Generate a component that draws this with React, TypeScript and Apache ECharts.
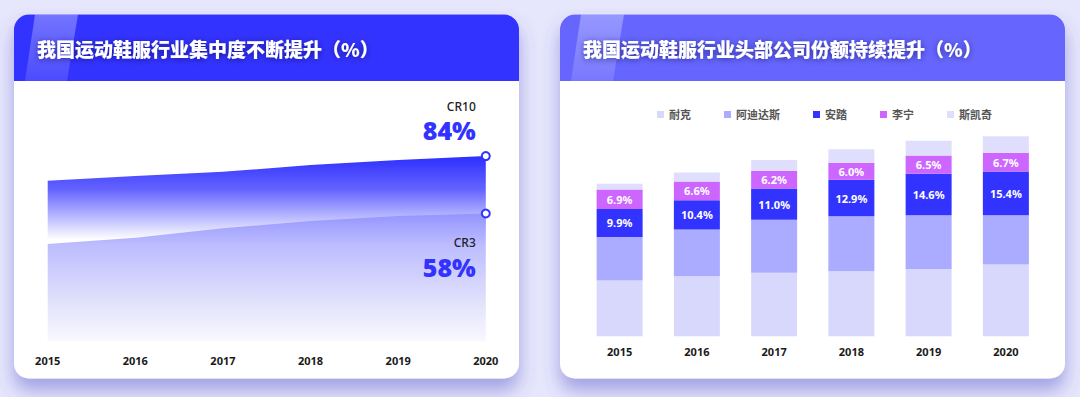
import React, { useEffect, useRef } from "react";
import * as echarts from "echarts";

const years = ["2015", "2016", "2017", "2018", "2019", "2020"];
const cr10 = [72.8, 75.0, 76.9, 79.9, 82.2, 84];
const cr3 = [44.2, 47.0, 51.3, 54.6, 56.9, 58];

const brandNames = ["耐克", "阿迪达斯", "安踏", "李宁", "斯凯奇"];
const nike = [19.7, 21.2, 22.5, 23.0, 23.8, 25.4];
const adidas = [15.4, 16.5, 18.7, 19.4, 19.0, 17.4];
const anta = [9.9, 10.4, 11.0, 12.9, 14.6, 15.4];
const lining = [6.9, 6.6, 6.2, 6.0, 6.5, 6.7];
const skechers = [2.0, 3.2, 3.9, 4.8, 5.2, 5.8];
const brandValues = [nike, adidas, anta, lining, skechers];
const brandColors = ["#D8D8FD", "#ABABFF", "#3333FF", "#CC66FF", "#DFDFFD"];
const labelled = [false, false, true, true, false];

const title1 = "我国运动鞋服行业集中度不断提升（%）";
const title2 = "我国运动鞋服行业头部公司份额持续提升（%）";

const FONT = '"Noto Sans", "Noto Sans CJK SC", sans-serif';

function card(x: number, headerColor: string, title: string, stripeX: number) {
  const y = 14.5;
  const w = 505;
  const h = 364;
  const hh = 66.5;
  return [
    {
      type: "rect",
      shape: { x, y, width: w, height: h, r: 15 },
      style: {
        fill: "#ffffff",
        shadowBlur: 18,
        shadowOffsetY: 12,
        shadowColor: "rgba(80,80,200,0.45)",
      },
      z: 0,
    },
    {
      type: "rect",
      shape: { x, y, width: w, height: hh, r: [15, 15, 0, 0] },
      style: { fill: headerColor },
      z: 1,
    },
    {
      type: "polygon",
      shape: {
        points: [
          [stripeX, y],
          [stripeX + 43, y],
          [stripeX + 32, y + hh],
          [stripeX - 10, y + hh],
        ],
      },
      style: {
        fill: new echarts.graphic.LinearGradient(0, 0, 0, 1, [
          { offset: 0, color: "rgba(255,255,255,0.32)" },
          { offset: 1, color: "rgba(255,255,255,0.12)" },
        ]),
      },
      z: 2,
    },
    {
      type: "text",
      x: x + 23,
      y: 48,
      style: {
        text: title,
        fill: "#ffffff",
        font: '900 19px "Noto Sans CJK SC", sans-serif',
        verticalAlign: "middle",
        textShadowColor: "rgba(0,0,60,0.55)",
        textShadowBlur: 6,
        textShadowOffsetY: 1,
      },
      z: 3,
    },
  ];
}

function lineData(arr: number[], name: string, offsetY: number) {
  const last = arr.length - 1;
  return arr.map((v, i) =>
    i === last
      ? {
          value: v,
          symbol: "emptyCircle",
          symbolSize: 8,
          label: {
            show: true,
            position: "inside",
            align: "right",
            verticalAlign: "middle",
            offset: [-10, offsetY],
            formatter: `{a|${name}}\n{b|${Math.round(v)}%}`,
            rich: {
              a: { fontSize: 12, color: "#222", fontWeight: 500, lineHeight: 20, align: "right", fontFamily: FONT },
              b: { fontSize: 25, color: "#3333FF", fontWeight: 900, lineHeight: 28, align: "right", fontFamily: FONT },
            },
          },
        }
      : { value: v, symbol: "none" }
  );
}

export default function App() {
  const ref = useRef<HTMLDivElement>(null);
  useEffect(() => {
    if (!ref.current) return;
    const chart = echarts.init(ref.current, undefined, { renderer: "svg" });
    const option: any = {
      animation: false,
      backgroundColor: "#E6E6FC",
      graphic: [
        ...card(14, "#3333FF", title1, 35),
        ...card(560, "#6666FF", title2, 581),
      ],
      legend: {
        data: brandNames,
        top: 104,
        left: 652,
        icon: "rect",
        itemWidth: 7,
        itemHeight: 7,
        itemGap: 33,
        textStyle: { fontSize: 11, color: "#555", fontWeight: "bold", fontFamily: FONT },
      },
      grid: [
        { left: 47.7, right: 594.2, top: 120.7, bottom: 55.3 },
        { left: 581, right: 35.5, top: 109.9, bottom: 60.7 },
      ],
      xAxis: [
        {
          type: "category",
          gridIndex: 0,
          data: years,
          boundaryGap: false,
          axisLine: { show: false },
          axisTick: { show: false },
          axisLabel: { fontSize: 11, fontWeight: "bold", color: "#1a1a1a", margin: 13, fontFamily: FONT },
        },
        {
          type: "category",
          gridIndex: 1,
          data: years,
          axisLine: { show: false },
          axisTick: { show: false },
          axisLabel: { fontSize: 11, fontWeight: "bold", color: "#1a1a1a", margin: 10, fontFamily: FONT },
        },
      ],
      yAxis: [
        { type: "value", gridIndex: 0, min: 0, max: 100, show: false, splitLine: { show: false } },
        { type: "value", gridIndex: 1, min: 0, max: 80, show: false, splitLine: { show: false } },
      ],
      series: [
        {
          name: "CR10",
          type: "line",
          xAxisIndex: 0,
          yAxisIndex: 0,
          data: lineData(cr10, "CR10", -36),
          showSymbol: true,
          symbol: "emptyCircle",
          lineStyle: { width: 0, opacity: 0 },
          itemStyle: { color: "#3333FF", borderWidth: 2.8 },
          areaStyle: {
            opacity: 1,
            color: new echarts.graphic.LinearGradient(0, 0, 0, 1, [
              { offset: 0, color: "#2e2eff" },
              { offset: 0.18, color: "#6464ff" },
              { offset: 0.45, color: "#ffffff" },
              { offset: 1, color: "#ffffff" },
            ]),
          },
          z: 2,
        },
        {
          name: "CR3",
          type: "line",
          xAxisIndex: 0,
          yAxisIndex: 0,
          data: lineData(cr3, "CR3", 43),
          showSymbol: true,
          symbol: "emptyCircle",
          lineStyle: { width: 0, opacity: 0 },
          itemStyle: { color: "#3333FF", borderWidth: 2.8 },
          areaStyle: {
            opacity: 1,
            color: new echarts.graphic.LinearGradient(0, 0, 0, 1, [
              { offset: 0, color: "#9494ff" },
              { offset: 0.25, color: "#bdbdff" },
              { offset: 0.7, color: "#e2e2fc" },
              { offset: 1, color: "#f9f9ff" },
            ]),
          },
          z: 3,
        },
        ...brandNames.map((name, k) => ({
          name,
          type: "bar",
          stack: "share",
          xAxisIndex: 1,
          yAxisIndex: 1,
          barWidth: 46,
          data: brandValues[k],
          itemStyle: { color: brandColors[k] },
          label: {
            show: labelled[k],
            position: "inside",
            color: "#ffffff",
            fontSize: 11,
            fontWeight: "bold",
            fontFamily: FONT,
            formatter: (p: any) => `${Number(p.value).toFixed(1)}%`,
          },
        })),
      ],
    };
    chart.setOption(option);
    return () => chart.dispose();
  }, []);
  return (
    <div
      ref={ref}
      style={{ position: "absolute", left: 0, top: 0, width: 1080, height: 397 }}
    />
  );
}
